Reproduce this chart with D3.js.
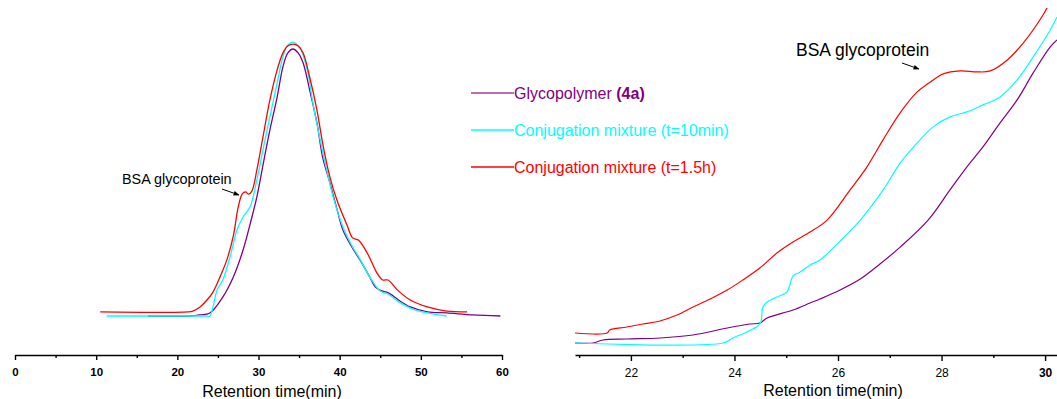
<!DOCTYPE html>
<html>
<head>
<meta charset="utf-8">
<script src="https://cdn.jsdelivr.net/npm/d3@7/dist/d3.min.js"></script>
<style>
  html, body { margin: 0; padding: 0; background: #fff; }
  svg { display: block; font-family: "Liberation Sans", Arial, sans-serif; }
</style>
</head>
<body>
<svg id="chart" width="1057" height="399"></svg>
<script>
// ---------------- DATA ----------------
// Left panel: full chromatogram (retention time in min, normalised detector signal)
const leftPolymerT = [16.4,21.6,22.8,24.0,25.6,26.9,28.1,29.0,29.8,30.6,31.4,32.3,33.0,33.6,34.25,34.9,35.5,36.3,37.2,37.9,38.8,39.7,40.4,41.5,42.5,43.7,44.4,45.2,45.8,46.6,47.4,48.7,50.8,53.2,56.4,59.8];
const leftPolymerV = [0,0,0.004,0.011,0.069,0.142,0.240,0.338,0.433,0.556,0.676,0.796,0.905,0.956,0.971,0.956,0.920,0.822,0.702,0.578,0.484,0.385,0.313,0.251,0.204,0.142,0.105,0.091,0.087,0.073,0.055,0.033,0.015,0.011,0.004,0];

const leftMix10T = [11.3,23.5,24.0,24.4,24.9,25.6,26.5,27.35,28.1,28.95,29.8,30.55,31.4,32.3,33.0,33.6,34.25,35.1,36.0,36.7,37.6,38.4,39.2,40.4,41.6,42.5,43.7,45.0,45.95,47.1,48.7,50.8,53.2];
const leftMix10V = [0,0,0,0.033,0.095,0.131,0.215,0.313,0.360,0.396,0.495,0.604,0.724,0.847,0.942,0.985,0.996,0.975,0.895,0.775,0.640,0.531,0.433,0.324,0.251,0.207,0.142,0.091,0.080,0.055,0.029,0.011,0];

const leftMix15T = [10.5,21.3,21.9,22.8,23.65,24.4,25.3,26.1,26.9,27.5,28.0,28.4,28.8,29.2,29.8,30.55,31.4,32.3,33.0,33.6,34.25,34.9,35.5,36.3,37.2,37.9,38.8,39.7,40.9,41.6,42.3,43.4,44.6,45.3,45.95,47.1,48.7,50.8,53.2,55.7];
const leftMix15V = [0.015,0.015,0.018,0.033,0.058,0.087,0.145,0.204,0.291,0.396,0.444,0.451,0.443,0.455,0.531,0.651,0.785,0.895,0.956,0.982,0.989,0.982,0.956,0.869,0.749,0.629,0.505,0.418,0.331,0.284,0.276,0.229,0.156,0.131,0.131,0.095,0.058,0.033,0.018,0.015];

// Right panel: zoom on 21-30 min
const rightPolymerT = [20.92,21.27,21.46,21.92,22.56,23.2,23.86,24.3,24.49,24.63,25.13,25.46,25.65,26.04,26.43,26.81,27.2,27.74,28.16,28.49,28.8,29.13,29.46,29.77,30.1,30.23];
const rightPolymerV = [0,0,0.009,0.012,0.015,0.024,0.045,0.057,0.060,0.075,0.099,0.120,0.132,0.159,0.192,0.237,0.288,0.369,0.459,0.529,0.589,0.661,0.730,0.811,0.889,0.910];

const rightMix10T = [20.92,23.78,23.97,24.24,24.45,24.51,24.55,24.63,24.82,25.01,25.07,25.13,25.27,25.46,25.65,26.04,26.43,26.87,27.2,27.53,27.84,28.16,28.49,28.8,29.13,29.46,29.77,30.1,30.23];
const rightMix10V = [0,0,0.015,0.033,0.051,0.063,0.108,0.123,0.138,0.153,0.174,0.201,0.213,0.234,0.249,0.306,0.369,0.459,0.540,0.601,0.649,0.679,0.694,0.715,0.739,0.790,0.859,0.940,0.979];

const rightMix15T = [20.92,21.54,21.59,21.92,22.23,22.56,22.89,23.2,23.53,23.86,24.16,24.49,24.82,25.13,25.46,25.79,26.23,26.56,26.87,27.2,27.53,27.84,28.03,28.36,28.69,28.94,29.27,29.58,29.96,30.05];
const rightMix15V = [0.030,0.030,0.039,0.048,0.057,0.066,0.084,0.108,0.132,0.159,0.189,0.225,0.270,0.303,0.333,0.369,0.459,0.529,0.610,0.691,0.754,0.790,0.808,0.817,0.814,0.817,0.850,0.901,0.985,1.01];

const seriesNames = ["Glycopolymer ", "Conjugation mixture (t=10min)", "Conjugation mixture (t=1.5h)"];
const seriesColors = ["#800080", "#00ffff", "#ff0000"];
const leftMajorTicks = [0, 10, 20, 30, 40, 50, 60];
const leftMinorTicks = [5, 15, 25, 35, 45, 55];
const rightMajorTicks = [22, 24, 26, 28, 30];
const rightMinorTicks = [21, 23, 25, 27, 29];
const axisTitle = "Retention time(min)";
const annotationText = "BSA glycoprotein";

// ---------------- DRAW ----------------
const svg = d3.select("#chart");
const zip = (t, v) => t.map((d, i) => [d, v[i]]);

const xL = d3.scaleLinear().domain([0, 60]).range([15, 502]);
const yL = d3.scaleLinear().domain([0, 1]).range([316, 41]);
const xR = d3.scaleLinear().domain([20.92, 30.23]).range([575, 1057]);
const yR = d3.scaleLinear().domain([0, 1]).range([343, 10]);

const defs = svg.append("defs");
defs.append("clipPath").attr("id", "clipR").append("rect")
  .attr("x", xR.range()[0]).attr("y", 8).attr("width", xR.range()[1] - xR.range()[0]).attr("height", 346);
defs.append("marker").attr("id", "arrow").attr("viewBox", "0 0 10 10")
  .attr("refX", 9).attr("refY", 5).attr("markerWidth", 6).attr("markerHeight", 6)
  .attr("markerUnits", "userSpaceOnUse").attr("orient", "auto")
  .append("path").attr("d", "M0,1 L10,5 L0,9 Z").attr("fill", "#000");

const leftData = [zip(leftPolymerT, leftPolymerV), zip(leftMix10T, leftMix10V), zip(leftMix15T, leftMix15V)];
const rightData = [zip(rightPolymerT, rightPolymerV), zip(rightMix10T, rightMix10V), zip(rightMix15T, rightMix15V)];

const lineL = d3.line().x(d => xL(d[0])).y(d => yL(d[1])).curve(d3.curveCatmullRom.alpha(0.5));
const lineR = d3.line().x(d => xR(d[0])).y(d => yR(d[1])).curve(d3.curveCatmullRom.alpha(0.5));

svg.append("g").selectAll("path").data(leftData).join("path")
  .attr("d", lineL).attr("fill", "none")
  .attr("stroke", (d, i) => seriesColors[i]).attr("stroke-width", 1.3);

svg.append("g").attr("clip-path", "url(#clipR)").selectAll("path").data(rightData).join("path")
  .attr("d", lineR).attr("fill", "none")
  .attr("stroke", (d, i) => seriesColors[i]).attr("stroke-width", 1.2);

// Axes
const axisY = 355;
function drawAxis(scale, major, minor, majorSize, pad, font, weightFn) {
  const g = svg.append("g").attr("transform", `translate(0,${axisY})`);
  g.call(d3.axisBottom(scale).tickValues(major).tickSizeInner(majorSize).tickSizeOuter(0).tickPadding(pad).tickFormat(d3.format("d")));
  g.select(".domain").attr("stroke", "#000").attr("stroke-width", 1.6);
  g.selectAll(".tick line").attr("stroke", "#000").attr("stroke-width", 1.4);
  g.selectAll(".tick text").attr("fill", "#000").attr("font-size", font)
    .attr("font-family", '"Liberation Sans", Arial, sans-serif')
    .attr("font-weight", weightFn);
  const gm = svg.append("g").attr("transform", `translate(0,${axisY})`);
  gm.call(d3.axisBottom(scale).tickValues(minor).tickSizeInner(3).tickSizeOuter(0).tickFormat(""));
  gm.select(".domain").remove();
  gm.selectAll(".tick line").attr("stroke", "#000").attr("stroke-width", 1.4);
}
drawAxis(xL, leftMajorTicks, leftMinorTicks, 5, 8, 11.5, () => "bold");
drawAxis(xR, rightMajorTicks, rightMinorTicks, 6, 7, 12, d => d === 30 ? "bold" : "normal");

svg.append("text").attr("x", 272).attr("y", 397).attr("text-anchor", "middle")
  .attr("font-size", 16).attr("fill", "#000").text(axisTitle);
svg.append("text").attr("x", 833).attr("y", 396).attr("text-anchor", "middle")
  .attr("font-size", 16).attr("fill", "#000").text(axisTitle);

// Legend
const legendY = [93, 130, 167];
const lg = svg.append("g");
seriesNames.forEach((name, i) => {
  lg.append("line").attr("x1", 471).attr("x2", 514).attr("y1", legendY[i]).attr("y2", legendY[i])
    .attr("stroke", seriesColors[i]).attr("stroke-width", 1.3).attr("opacity", i === 0 ? 0.75 : 1);
  const t = lg.append("text").attr("x", 514).attr("y", legendY[i] + 5.5)
    .attr("font-size", 16).attr("fill", seriesColors[i]);
  t.append("tspan").text(name);
  if (i === 0) t.append("tspan").attr("font-weight", "bold").text("(4a)");
});

// Annotations
svg.append("text").attr("x", 122).attr("y", 184).attr("font-size", 14.4).attr("fill", "#000").text(annotationText);
svg.append("line").attr("x1", 222).attr("y1", 189).attr("x2", 239).attr("y2", 195)
  .attr("stroke", "#000").attr("stroke-width", 1).attr("marker-end", "url(#arrow)");
svg.append("text").attr("x", 796).attr("y", 56).attr("font-size", 17.5).attr("fill", "#000").text(annotationText);
svg.append("line").attr("x1", 902).attr("y1", 63).attr("x2", 919).attr("y2", 69)
  .attr("stroke", "#000").attr("stroke-width", 1).attr("marker-end", "url(#arrow)");
</script>
</body>
</html>
